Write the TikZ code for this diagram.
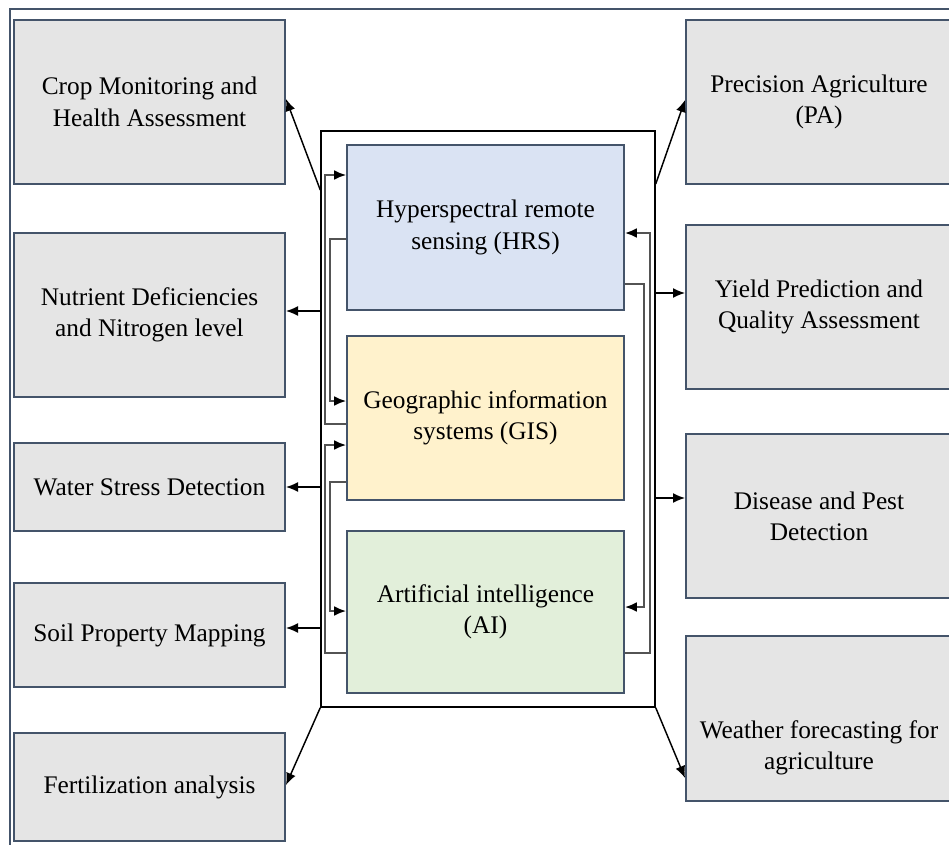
\documentclass[tikz,border=0pt]{standalone}
\usepackage{fontspec}
\setmainfont{Liberation Serif}
\usetikzlibrary{fit,arrows.meta}
\definecolor{edgeblue}{HTML}{44546A}
\definecolor{boxgray}{HTML}{E5E5E5}
\definecolor{hrsfill}{HTML}{DAE3F3}
\definecolor{gisfill}{HTML}{FFF2CC}
\definecolor{aifill}{HTML}{E2EFDA}
\newcommand\boxfont{\fontsize{19}{23.5}\selectfont}
\begin{document}
\begin{tikzpicture}[x=0.75pt,y=-0.75pt,
  txt/.style={align=center, font=\boxfont, inner sep=0pt},
  gbox/.style={draw=edgeblue, line width=1.5pt, fill=boxgray, inner sep=0pt},
  cbox/.style={draw=edgeblue, line width=1.2pt, inner sep=0pt},
  frame/.style={draw=black, line width=1.1pt, inner sep=0pt},
  arr/.style={draw=black, line width=1.1pt, -{Latex[length=9pt,width=7.5pt]}},
  gl/.style={draw=gray!65!black, line width=2pt, -{Latex[length=9pt,width=7.5pt,color=black]}}]
\useasboundingbox (0,0) rectangle (949,845);
\fill[white] (0,0) rectangle (949,845);
% outer frame
\draw[edgeblue, line width=1.6pt] (10,9) rectangle (980,880);
% left boxes
\node[gbox, fit={(14,20)(285,184)}, label={[txt]center:{Crop Monitoring and\\Health Assessment}}] (l1) {};
\node[gbox, fit={(14,233)(285,397)}, label={[txt]center:{Nutrient Deficiencies\\and Nitrogen level}}] (l2) {};
\node[gbox, fit={(14,443)(285,531)}, label={[txt]center:{Water Stress Detection}}] (l3) {};
\node[gbox, fit={(14,583)(285,687)}, label={[txt]center:{Soil Property Mapping}}] (l4) {};
\node[gbox, fit={(14,733)(285,841)}, label={[txt]center:{Fertilization analysis}}] (l5) {};
% right boxes
\node[gbox, fit={(686,20)(952,184)}, label={[txt]center:{Precision Agriculture\\(PA)}}] (r1) {};
\node[gbox, fit={(686,225)(952,389)}, label={[txt]center:{Yield Prediction and\\Quality Assessment}}] (r2) {};
\node[gbox, fit={(686,434)(952,598)}, label={[txt]center:{Disease and Pest\\Detection}}] (r3) {};
\node[gbox, fit={(686,636)(952,801)}] (r4) {};
\node[txt, yshift=-6.5pt] (r4t) at (819,739) {Weather forecasting for\\agriculture};
% centre frame and boxes
\node[frame, fit={(321,131)(655,707)}] (cr) {};
\node[cbox, fill=hrsfill, fit={(347,145)(624,310)}, label={[txt]center:{Hyperspectral remote\\sensing (HRS)}}] (hrs) {};
\node[cbox, fill=gisfill, fit={(347,336)(624,500)}, label={[txt]center:{Geographic information\\systems (GIS)}}] (gis) {};
\node[cbox, fill=aifill, fit={(347,531)(624,693)}, label={[txt]center:{Artificial intelligence\\(AI)}}] (ai) {};
% helper levels
\foreach \v in {99,100,175,184,190,233,239,284,293,311,401,424,445,482,487,498,607,611,628,653,707,778,785}
  {\coordinate (h\v) at (0,\v);}
% grey internal links
\draw[gl] (gis.west |- h424) -- (325,424) -- (325,175) -- (hrs.west |- h175);
\draw[gl] (hrs.west |- h239) -- (330,239) -- (330,401) -- (gis.west |- h401);
\draw[gl] (ai.west |- h653) -- (325,653) -- (325,445) -- (gis.west |- h445);
\draw[gl] (gis.west |- h482) -- (330,482) -- (330,611) -- (ai.west |- h611);
\draw[gl] (hrs.east |- h284) -- (644,284) -- (644,607) -- (ai.east |- h607);
\draw[gl] (ai.east |- h653) -- (650,653) -- (650,233) -- (hrs.east |- h233);
% outputs left
\draw[arr] (cr.west |- h190) -- (l1.east |- h99);
\draw[arr] (cr.west |- h311) -- (l2.east |- h311);
\draw[arr] (cr.west |- h487) -- (l3.east |- h487);
\draw[arr] (cr.west |- h628) -- (l4.east |- h628);
\draw[arr] (cr.south west) -- (l5.east |- h785);
% outputs right
\draw[arr] (cr.east |- h184) -- (r1.west |- h100);
\draw[arr] (cr.east |- h293) -- (r2.west |- h293);
\draw[arr] (cr.east |- h498) -- (r3.west |- h498);
\draw[arr] (cr.south east) -- (r4.west |- h778);
\end{tikzpicture}
\end{document}
